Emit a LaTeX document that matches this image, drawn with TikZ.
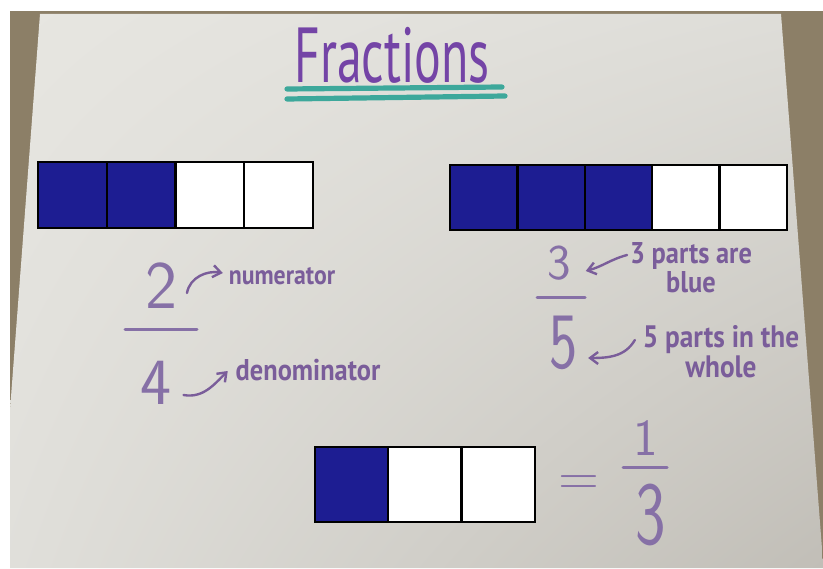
\documentclass[tikz,border=0pt]{standalone}
\usepackage{fontspec}
\usepackage{graphicx}
\usetikzlibrary{arrows.meta,calc,shadings}
\setmainfont{PT Sans}
\newfontfamily\titlefont[FakeStretch=0.64]{PT Sans}
\newfontfamily\labelfont[FakeStretch=0.88]{PT Sans}
\definecolor{paper}{HTML}{E7E6E1}
\definecolor{paperdark}{HTML}{C1BEB7}
\definecolor{desk}{HTML}{8C7F67}
\definecolor{titlepurple}{HTML}{7444A6}
\definecolor{inkpurple}{HTML}{7A5D9A}
\definecolor{numpurple}{HTML}{8670A6}
\definecolor{underteal}{HTML}{3DA89B}
\definecolor{fillblue}{HTML}{1D1D92}

\begin{document}
\begin{tikzpicture}[x=0.5pt,y=0.5pt,>={Straight Barb[length=4pt,width=6pt]},
  every node/.style={inner sep=0pt,outer sep=0pt},
  cell/.style 2 args={draw=black,line width=1.2pt,minimum width=#1,minimum height=#2},
  num/.style={text=numpurple,font=\sffamily\fontsize{#1}{#1}\selectfont},
  note/.style={text=inkpurple,align=center,font=\labelfont\bfseries\fontsize{#1}{12}\selectfont},
  fracbar/.style={numpurple,line width=1.5pt,line cap=round},
  handarrow/.style={->,inkpurple,line width=1.2pt,line cap=round}]
  \useasboundingbox (0,0) rectangle (823,568);
  % photo: desk and sheet
  \fill[white] (0,0) rectangle (823,568);
  \fill[desk] (10,0) rectangle (823,557);
  \shade[upper left=paper,upper right=paper!96!black,lower left=paper!97!black,lower right=paperdark]
    (40,554) -- (781,554) -- (823,6) -- (823,0) -- (10,0) -- (10,158) -- cycle;

  \node[text=titlepurple,font=\titlefont\fontsize{39}{40}\selectfont] (title) at (392,513) {Fractions};
  \draw[underteal,line width=2.6pt,line cap=round] (287,479) -- (502,481);
  \draw[underteal,line width=2.6pt,line cap=round] (287,469) -- (505,472);

  % 2/4
  \foreach \i/\c in {1/fillblue,2/fillblue,3/white,4/white}
    \node[cell={34.4pt}{33pt},fill=\c] (quarter\i) at ({38+68.75*(\i-0.5)},373) {};
  \node[num=34] (two) at (161,282) {2};
  \node[num=33] (four) at (156,185) {4};
  \draw[fracbar] (125,239) -- (197,239);
  \node[note=13.5] (numer) at (282,292) {numerator};
  \node[note=15] (denom) at (308,198) {denominator};
  \draw[handarrow] ([shift={(10,-7)}]two.east) to[out=80,in=170] ([shift={(-6,3)}]numer.west);
  \draw[handarrow] ([shift={(12,-12)}]four.east) to[out=-10,in=225] ([shift={(-8,-1)}]denom.west);

  % 3/5
  \foreach \i/\c in {1/fillblue,2/fillblue,3/fillblue,4/white,5/white}
    \node[cell={33.7pt}{32.5pt},fill=\c] (fifth\i) at ({450+67.4*(\i-0.5)},370.5) {};
  \node[num=25] (three) at (559,305) {3};
  \node[num=40] (five) at (564,225) {\scalebox{0.75}[1]{5}};
  \draw[fracbar] (537,271) -- (585,271);
  \node[note=15] (blue) at (691,300) {3 parts are\\blue};
  \node[note=15.5] (whole) at (721,216) {5 parts in the\\whole};
  \draw[handarrow] ([shift={(-3,13)}]blue.west) to[out=195,in=15] ([shift={(15,-8)}]three.east);
  \draw[handarrow] ([shift={(-8,12)}]whole.west) to[out=240,in=0] ([shift={(10,-15)}]five.east);

  % 1/3
  \foreach \i/\c in {1/fillblue,2/white,3/white}
    \node[cell={36.7pt}{37.5pt},fill=\c] (third\i) at ({315+73.3*(\i-0.5)},83.5) {};
  \node[num=28] (equals) at (579,82) {=};
  \node[num=26] (one) at (646,130) {1};
  \draw[fracbar] (623,101) -- (667,101);
  \node[num=45] (threeb) at (651,53) {\scalebox{0.72}[1]{3}};
\end{tikzpicture}
\end{document}
